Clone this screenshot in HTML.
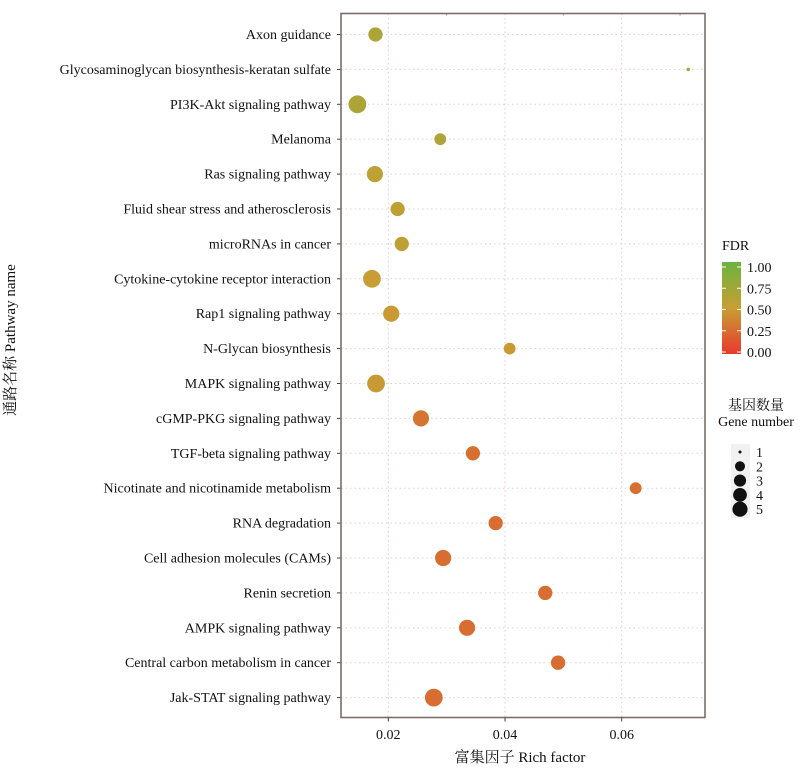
<!DOCTYPE html>
<html><head><meta charset="utf-8"><style>
body{margin:0;background:#fff;width:800px;height:765px;overflow:hidden}
text{font-family:"Liberation Serif","Noto Serif CJK SC",serif;fill:#111}
</style></head><body>
<svg id="c" width="800" height="765">
<defs><linearGradient id="g" x1="0" y1="1" x2="0" y2="0">
<stop offset="0" stop-color="#e8382e"/><stop offset="0.5" stop-color="#c89e34"/><stop offset="1" stop-color="#6cb33e"/></linearGradient></defs>
</svg>
<script>
const pathways=["Axon guidance","Glycosaminoglycan biosynthesis-keratan sulfate","PI3K-Akt signaling pathway","Melanoma","Ras signaling pathway","Fluid shear stress and atherosclerosis","microRNAs in cancer","Cytokine-cytokine receptor interaction","Rap1 signaling pathway","N-Glycan biosynthesis","MAPK signaling pathway","cGMP-PKG signaling pathway","TGF-beta signaling pathway","Nicotinate and nicotinamide metabolism","RNA degradation","Cell adhesion molecules (CAMs)","Renin secretion","AMPK signaling pathway","Central carbon metabolism in cancer","Jak-STAT signaling pathway"];
const richFactor=[0.0178,0.0714,0.0147,0.0289,0.0177,0.0216,0.0223,0.0172,0.0205,0.0408,0.0179,0.0256,0.0345,0.0624,0.0384,0.0294,0.0469,0.0335,0.0491,0.0278];
const geneCount=[3,1,5,2,4,3,3,5,4,2,5,4,3,2,3,4,3,4,3,5];
const fdr=[0.66,0.68,0.66,0.64,0.56,0.56,0.56,0.5,0.48,0.48,0.48,0.3,0.27,0.27,0.26,0.26,0.26,0.26,0.26,0.26];
const xTicks=[0.02,0.04,0.06];
const fdrTicks=[0,0.25,0.5,0.75,1];
const sizeLevels=[1,2,3,4,5];
const svg=document.getElementById('c');const NS='http://www.w3.org/2000/svg';
function mk(t,a,p){const e=document.createElementNS(NS,t);for(const k in a)e.setAttribute(k,a[k]);(p||svg).appendChild(e);return e;}
const L=341,R=705,T=13.5,B=717.5;
const xS=v=>271.6+(v)*5835;
const yS=i=>34.5+i*34.9;
const rS=n=>1.8+Math.sqrt(n-1)*3.0+ (n>1?1.1:0);
function col(f){const s=[[232,56,46],[200,158,52],[108,179,62]];let a,b,t;if(f<0.5){a=s[0];b=s[1];t=f/0.5}else{a=s[1];b=s[2];t=(f-0.5)/0.5}return `rgb(${a.map((v,i)=>Math.round(v+(b[i]-v)*t)).join(',')})`;}
let gl=mk('g',{});


xTicks.forEach(v=>{mk('line',{x1:xS(v),x2:xS(v),y1:T,y2:B,stroke:'#e8caca','stroke-dasharray':'1.5 3'},gl);});
[0.03,0.05,0.07].forEach(v=>{mk('line',{x1:xS(v),x2:xS(v),y1:T,y2:T+2,stroke:'#999'},gl);});
pathways.forEach((p,i)=>{mk('line',{x1:L,x2:R,y1:yS(i),y2:yS(i),stroke:'#e6d0d0','stroke-dasharray':'1.5 3'},gl);
const tk=mk('line',{x1:L-4,x2:L,y1:yS(i),y2:yS(i),stroke:'#444'});
const t=mk('text',{x:331,y:yS(i)+4.5,'text-anchor':'end','font-size':14});t.textContent=p;

});
const fr=mk('rect',{x:L,y:T,width:R-L,height:B-T,fill:'none',stroke:'#7a6e6a','stroke-width':1.6});


xTicks.forEach(v=>{mk('line',{x1:xS(v),x2:xS(v),y1:B,y2:B+4,stroke:'#444'});
const t=mk('text',{x:xS(v),y:739,'text-anchor':'middle','font-size':14});t.textContent=v.toFixed(2);

});
pathways.forEach((p,i)=>{const c=mk('circle',{cx:xS(richFactor[i]),cy:yS(i),r:rS(geneCount[i]),fill:col(fdr[i])});

});
let t=mk('text',{x:520,y:762,'text-anchor':'middle','font-size':15});t.textContent='富集因子  Rich factor';


t=mk('text',{x:0,y:0,'text-anchor':'middle','font-size':15,transform:'translate(15,340) rotate(-90)'});t.textContent='通路名称  Pathway name';


t=mk('text',{x:722,y:250,'font-size':14});t.textContent='FDR';


const cb=mk('rect',{x:722,y:262,width:19,height:92,fill:'url(#g)'});


fdrTicks.forEach(v=>{const y=352-v*85;mk('line',{x1:722,x2:726,y1:y,y2:y,stroke:'#fff'});mk('line',{x1:737,x2:741,y1:y,y2:y,stroke:'#fff'});
const tt=mk('text',{x:747,y:y+5,'font-size':14});tt.textContent=v.toFixed(2);

});
t=mk('text',{x:756,y:410,'text-anchor':'middle','font-size':14});t.textContent='基因数量';


t=mk('text',{x:756,y:426,'text-anchor':'middle','font-size':14});t.textContent='Gene number';


mk('rect',{x:731,y:444,width:19,height:74,fill:'#f1f1f1'});
sizeLevels.forEach((n,i)=>{const y=452+i*14.3;const c=mk('circle',{cx:740,cy:y,r:rS(n)*0.85,fill:'#111'});


const tt=mk('text',{x:756,y:y+5,'font-size':14});tt.textContent=n;

});
</script>
</body></html>
